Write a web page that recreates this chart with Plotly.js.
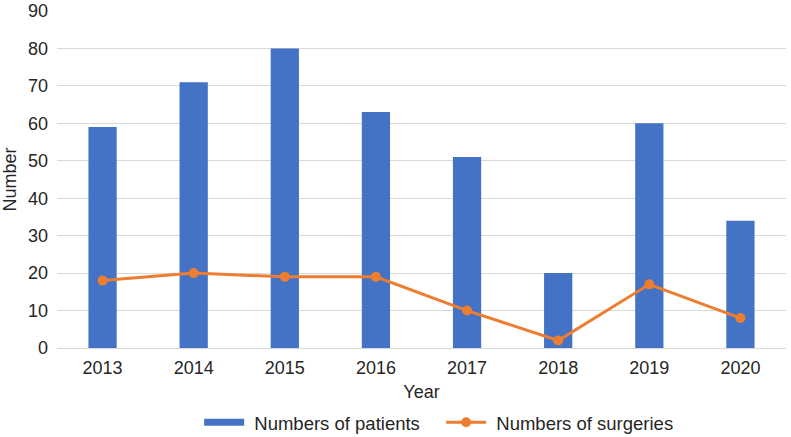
<!DOCTYPE html>
<html>
<head>
<meta charset="utf-8">
<script src="https://cdn.plot.ly/plotly-3.0.1.min.js"></script>
<style>html,body{margin:0;padding:0;background:#fff;}#chart{width:791px;height:437px;}</style>
</head>
<body>
<div id="chart"></div>
<script>
const years = ['2013','2014','2015','2016','2017','2018','2019','2020'];
const patients = [59, 71, 80, 63, 51, 20, 60, 34];
const surgeries = [18, 20, 19, 19, 10, 2, 17, 8];

const font = {family: 'Liberation Sans, Arial, sans-serif', size: 18, color: '#262626'};
const legendFont = {family: 'Liberation Sans, Arial, sans-serif', size: 18.5, color: '#262626'};

Plotly.newPlot('chart', [
  {type: 'bar', x: years, y: patients, name: 'Numbers of patients',
   marker: {color: '#4472C4'}, showlegend: false},
  {type: 'scatter', mode: 'lines', x: [null], y: [null], name: '\u00a0Numbers of patients',
   line: {color: '#4472C4', width: 7}, hoverinfo: 'skip'},
  {type: 'scatter', mode: 'lines+markers', x: years, y: surgeries, name: '\u00a0Numbers of surgeries',
   line: {color: '#ED7D31', width: 3}, marker: {color: '#ED7D31', size: 10}}
], {
  width: 791, height: 437,
  margin: {l: 57, r: 5, t: 11, b: 89, autoexpand: false},
  paper_bgcolor: '#fff', plot_bgcolor: '#fff',
  font: font,
  bargap: 0.69,
  showlegend: true,
  legend: {orientation: 'h', x: 0.195, xanchor: 'left', y: -0.222, yanchor: 'middle',
           font: legendFont, itemwidth: 40, tracegroupgap: 0, traceorder: 'normal',
           entrywidth: 187, entrywidthmode: 'pixels'},
  xaxis: {type: 'category', automargin: false, showgrid: false, showline: true, linecolor: '#d9d9d9', linewidth: 1,
          ticks: '', tickfont: font, ticklabelstandoff: 3,
          title: {text: 'Year', font: font, standoff: 8}},
  yaxis: {range: [0, 90], dtick: 10, automargin: false, showgrid: true, gridcolor: '#d9d9d9', gridwidth: 1,
          zeroline: false, showline: false, ticks: '', tickfont: font, ticklabelstandoff: 8,
          title: {text: 'Number', font: font, standoff: 10}}
}, {displayModeBar: false, staticPlot: true});
</script>
</body>
</html>
